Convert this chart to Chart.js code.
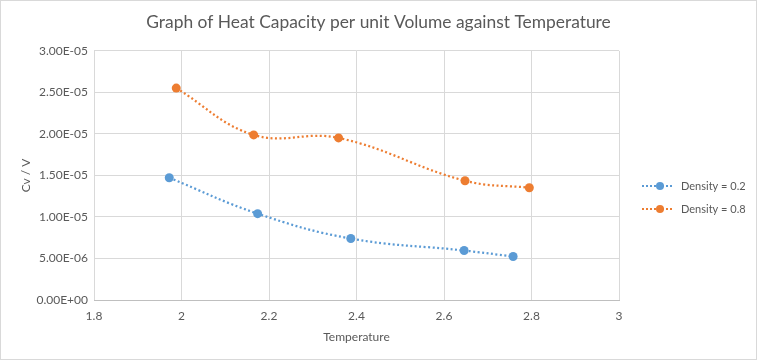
<!DOCTYPE html>
<html><head><meta charset="utf-8">
<script src="https://cdn.jsdelivr.net/npm/chart.js@4/dist/chart.umd.min.js"></script>
<style>
html,body{margin:0;padding:0;background:#fff;}
#wrap{position:relative;width:757px;height:360px;box-sizing:border-box;border:1px solid #d9d9d9;}
canvas{display:block;}
</style></head>
<body><div id="wrap"><canvas id="c" width="755" height="358"></canvas></div>
<script>
const chartTitle = "Graph of Heat Capacity per unit Volume against Temperature";
const xTitle = "Temperature";
const yTitle = "Cv / V";
const seriesNames = ["Density = 0.2", "Density = 0.8"];
const tempLow = [1.972, 2.174, 2.387, 2.646, 2.758];
const cvLow = [1.472e-5, 1.04e-5, 7.4e-6, 5.96e-6, 5.24e-6];
const tempHigh = [1.988, 2.165, 2.359, 2.648, 2.795];
const cvHigh = [2.552e-5, 1.988e-5, 1.952e-5, 1.436e-5, 1.352e-5];
const xTicks = [1.8, 2, 2.2, 2.4, 2.6, 2.8, 3];
const yTicks = [0, 5e-6, 1e-5, 1.5e-5, 2e-5, 2.5e-5, 3e-5];
const colors = ["#5B9BD5", "#ED7D31"];

const FONT = "Lato, 'Open Sans', sans-serif";
const GREY = "#595959";

function fmtExp(v){
  if (Math.abs(v) < 1e-20) return "0.00E+00";
  let e = Math.floor(Math.log10(Math.abs(v)) + 1e-9);
  let m = v / Math.pow(10, e);
  if (Math.abs(m) >= 9.995) { m /= 10; e += 1; }
  const sign = e < 0 ? "-" : "+";
  const ae = Math.abs(e);
  return m.toFixed(2) + "E" + sign + (ae < 10 ? "0" + ae : "" + ae);
}

function mk(xs, ys){ return xs.map((x,i)=>({x:x, y:ys[i]})); }

const legendPlugin = {
  id: 'sideLegend',
  afterDraw(chart){
    const ctx = chart.ctx;
    const ds = chart.data.datasets;
    const x0 = 641, ys = [185, 208];
    ctx.save();
    ds.forEach((d,i)=>{
      const y = ys[i];
      ctx.strokeStyle = d.borderColor;
      ctx.lineWidth = 2;
      ctx.setLineDash([2,2]);
      ctx.beginPath(); ctx.moveTo(x0, y); ctx.lineTo(x0+32, y); ctx.stroke();
      ctx.setLineDash([]);
      ctx.fillStyle = d.backgroundColor;
      ctx.beginPath(); ctx.arc(x0+18, y, 4, 0, Math.PI*2); ctx.fill();
      ctx.fillStyle = GREY;
      ctx.font = "11px " + FONT;
      ctx.textBaseline = "middle";
      ctx.textAlign = "left";
      ctx.fillText(d.label, x0+39, y);
    });
    ctx.restore();
  }
};

new Chart(document.getElementById('c'), {
  type: 'scatter',
  data: {
    datasets: [
      {label: seriesNames[0], data: mk(tempLow, cvLow), showLine: true, tension: 0.4,
       borderColor: colors[0], backgroundColor: colors[0], borderWidth: 2.25, borderDash: [2,2.5],
       pointRadius: 4.5, pointHoverRadius: 4.5, pointBorderWidth: 0},
      {label: seriesNames[1], data: mk(tempHigh, cvHigh), showLine: true, tension: 0.4,
       borderColor: colors[1], backgroundColor: colors[1], borderWidth: 2.25, borderDash: [2,2.5],
       pointRadius: 4.5, pointHoverRadius: 4.5, pointBorderWidth: 0}
    ]
  },
  options: {
    responsive: false,
    animation: false,
    events: [],
    layout: {padding: 0},
    plugins: {
      legend: {display: false},
      tooltip: {enabled: false},
      title: {display: true, text: chartTitle, color: GREY,
        font: {family: FONT, size: 17.4, weight: 'normal'}, padding: {top: 11, bottom: 18}}
    },
    scales: {
      x: {
        type: 'linear', min: 1.8, max: 3,
        afterBuildTicks(s){ s.ticks = xTicks.map(v=>({value:v})); },
        afterFit(s){ s.height = 59; },
        grid: {color: '#d9d9d9', drawTicks: false, lineWidth: 1},
        border: {color: '#bfbfbf'},
        ticks: {color: GREY, font: {family: FONT, size: 12}, padding: 9,
          callback: v => String(Math.round(v*10)/10)},
        title: {display: true, text: xTitle, color: GREY, font: {family: FONT, size: 12}, padding: {top: 4, bottom: 15}}
      },
      y: {
        type: 'linear', min: 0, max: 3e-5,
        afterBuildTicks(s){ s.ticks = yTicks.map(v=>({value:v})); },
        afterFit(s){ s.width = 93; },
        grid: {color: '#d9d9d9', drawTicks: false, lineWidth: 1},
        border: {display: false},
        ticks: {color: GREY, font: {family: FONT, size: 12}, padding: 6,
          callback: v => fmtExp(v)},
        title: {display: true, text: yTitle, color: GREY, font: {family: FONT, size: 12}, padding: {top: 18, bottom: 0}}
      },
      spacer: {
        type: 'linear', position: 'right', display: true,
        afterFit(s){ s.width = 137; },
        grid: {display: false, drawTicks: false},
        border: {display: false},
        ticks: {display: false}
      }
    }
  },
  plugins: [legendPlugin]
});
</script>
</body></html>
